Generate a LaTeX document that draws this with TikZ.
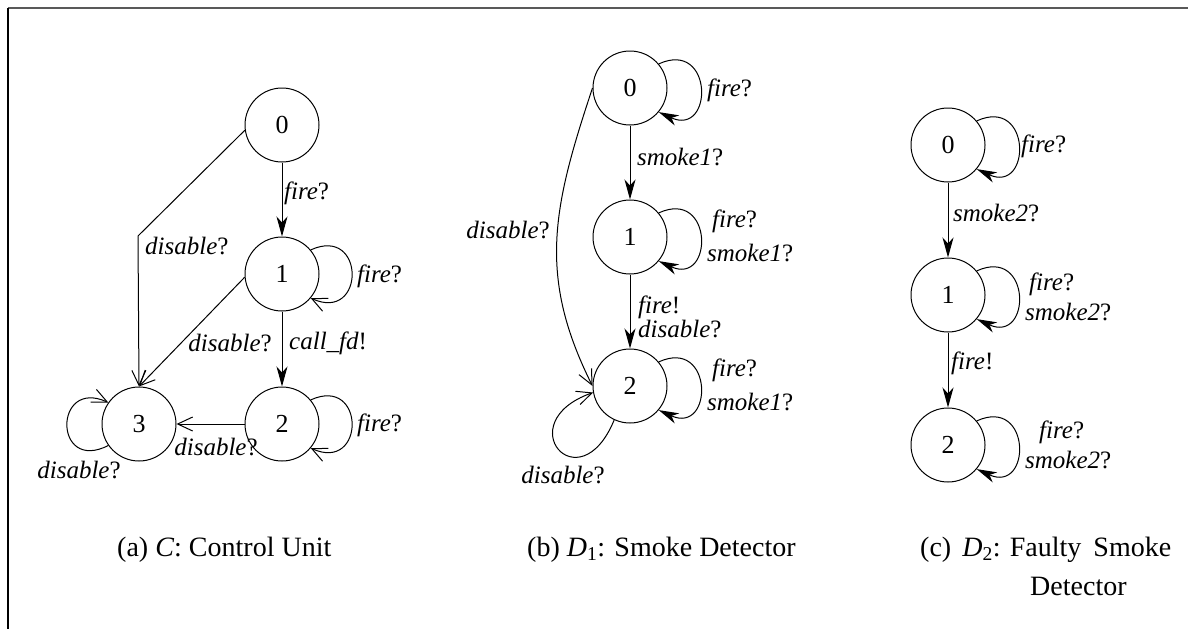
\documentclass[tikz,border=0pt]{standalone}
\usepackage{fontspec}
\setmainfont{Liberation Serif}
\usetikzlibrary{arrows.meta}
\begin{document}
\begin{tikzpicture}[x=1pt,y=-1pt,
  stnode/.style={circle,draw,line width=1pt,minimum size=74pt,inner sep=0pt,font=\fontsize{26}{30}\selectfont},
  lbl/.style={font=\fontsize{25}{30}\selectfont,inner sep=0pt,align=left},
  captext/.style={font=\fontsize{28}{34}\selectfont,inner sep=0pt},
  conn/.style={line width=1pt},
  fa/.style={conn,-{Stealth[length=20pt,width=11pt,inset=6pt]}},
  oa/.style={conn,-{Straight Barb[length=15pt,width=14pt]}},
  frameline/.style={line width=1.8pt}
]
\useasboundingbox (0,0) rectangle (1188,629);
% frame
\coordinate (ftl) at (8,8);
\coordinate (ftr) at (1188,8);
\coordinate (fbl) at (8,629);
\draw[frameline,black!65] (ftl) -- (ftr);
\draw[frameline] (ftl) -- (fbl);

% ---------- (a) Control unit ----------
\node[stnode] (a0) at (282,125) {0};
\node[stnode] (a1) at (282,274) {1};
\node[stnode] (a2) at (282,424) {2};
\node[stnode] (a3) at (139,424) {3};
\coordinate (abend) at (138,236);

\draw[oa] (a0.188) -- (abend) -- (a3.north);
\draw[fa] (a0) -- (a1);
\draw[fa] (a1) -- (a2);
\draw[oa] (a1.185) -- (a3.north);
\draw[oa] (a2) -- (a3);
\draw[oa] (a1.40) .. controls +(55,-25) and +(55,25) .. (a1.-40);
\draw[oa] (a2.40) .. controls +(55,-25) and +(55,25) .. (a2.-40);
\draw[oa] (a3.215) .. controls +(-55,28) and +(-55,-25) .. (a3.145);

\node[lbl,anchor=west] (la01) at (284,193) {\textit{fire}?};
\node[lbl,anchor=west] (la03) at (145,246) {\textit{disable}?};
\node[lbl,anchor=west] (la11) at (357,276) {\textit{fire}?};
\node[lbl,anchor=east] (la13) at (272,343) {\textit{disable}?};
\node[lbl,anchor=west] (la12) at (289,343) {\textit{call\_fd}!};
\node[lbl,anchor=west] (la22) at (357,425) {\textit{fire}?};
\node[lbl] (la23) at (216,447) {\textit{disable}?};
\node[lbl] (la33) at (79,470) {\textit{disable}?};

% ---------- (b) Smoke detector ----------
\node[stnode] (b0) at (630,88) {0};
\node[stnode] (b1) at (630,237) {1};
\node[stnode] (b2) at (630,386) {2};

\draw[fa] (b0.40) .. controls +(55,-25) and +(55,25) .. (b0.-40);
\draw[fa] (b0) -- (b1);
\draw[fa] (b1.40) .. controls +(55,-25) and +(55,25) .. (b1.-40);
\draw[fa] (b1) -- (b2);
\draw[fa] (b2.40) .. controls +(55,-25) and +(55,25) .. (b2.-40);
\draw[oa] (b0.west) .. controls +(-40,120) and +(-55,-110) .. (b2.west);
\draw[oa] (b2.245) .. controls +(-35,85) and +(-85,30) .. (b2.190);

\node[lbl,anchor=west] (lb00) at (707,90) {\textit{fire}?};
\node[lbl,anchor=west] (lb01) at (637,157) {\textit{smoke1}?};
\node[lbl,anchor=east] (lb02) at (550,230) {\textit{disable}?};
\node[lbl,anchor=west] (lb11) at (707,236) {\hspace*{5pt}\textit{fire}?\\[4pt]\textit{smoke1}?};
\node[lbl,anchor=west] (lb12) at (638,317) {\textit{fire}!\\[-6pt]\textit{disable}?};
\node[lbl,anchor=west] (lb22) at (707,385) {\hspace*{5pt}\textit{fire}?\\[4pt]\textit{smoke1}?};
\node[lbl] (lb22d) at (563,475) {\textit{disable}?};

% ---------- (c) Faulty smoke detector ----------
\node[stnode] (c0) at (948,145) {0};
\node[stnode] (c1) at (948,295) {1};
\node[stnode] (c2) at (948,445) {2};

\draw[fa] (c0.40) .. controls +(55,-25) and +(55,25) .. (c0.-40);
\draw[fa] (c0) -- (c1);
\draw[fa] (c1.40) .. controls +(55,-25) and +(55,25) .. (c1.-40);
\draw[fa] (c1) -- (c2);
\draw[fa] (c2.40) .. controls +(55,-25) and +(55,25) .. (c2.-40);

\node[lbl,anchor=west] (lc00) at (1021,146) {\textit{fire}?};
\node[lbl,anchor=west] (lc01) at (953,213) {\textit{smoke2}?};
\node[lbl,anchor=west] (lc11) at (1025,297) {\hspace*{4pt}\textit{fire}?\\\textit{smoke2}?};
\node[lbl,anchor=west] (lc12) at (951,363) {\textit{fire}!};
\node[lbl,anchor=west] (lc22) at (1025,445) {\hspace*{14pt}\textit{fire}?\\\textit{smoke2}?};

% ---------- captions ----------
\node[captext,anchor=base west] (capa) at (117,556) {(a) \textit{C}: Control Unit};
\node[captext,anchor=base west] (capb) at (527,556) {(b) \textit{D}\textsubscript{1}: Smoke Detector};
\node[captext,anchor=base west] (capc) at (920,556) {(c)\hspace{4pt} \textit{D}\textsubscript{2}: Faulty\hspace{5pt} Smoke};
\node[captext,anchor=base west] (capc2) at (1030,595) {Detector};
\end{tikzpicture}
\end{document}
